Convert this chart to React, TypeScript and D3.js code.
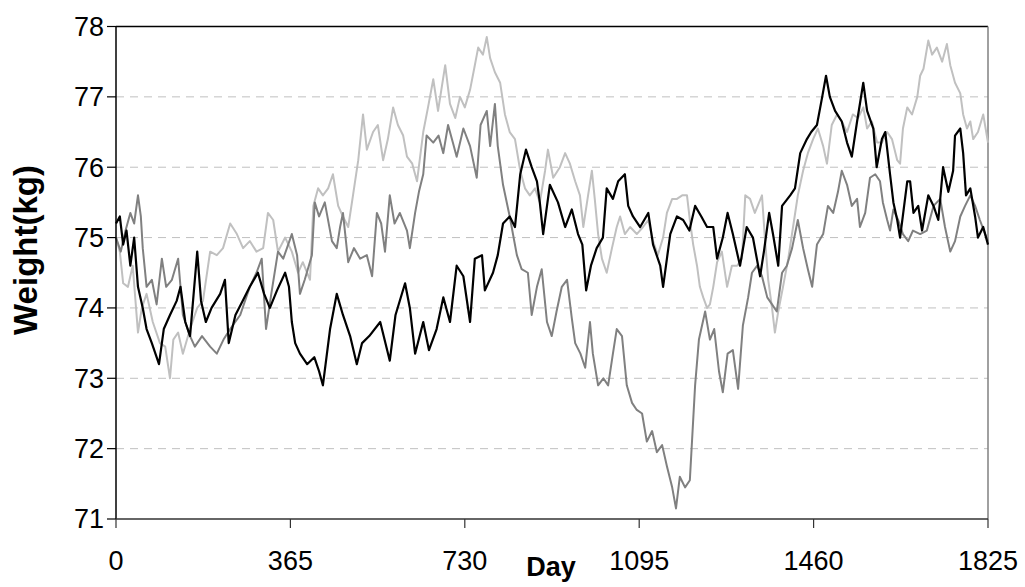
import * as d3 from 'd3';

// [day, weight] readings, one list per subject
const blackSeries: [number, number][] = [
  [0, 75.2], [8, 75.3], [15, 74.9], [22, 75.1], [30, 74.6], [38, 75.0], [46, 74.3], [56, 74.0],
  [64, 73.7], [75, 73.5], [90, 73.2], [100, 73.7], [113, 73.9], [127, 74.1], [135, 74.3], [145, 73.8],
  [155, 73.6], [170, 74.8], [178, 74.1], [188, 73.8], [200, 74.0], [218, 74.2], [228, 74.4], [236, 73.5],
  [250, 73.9], [265, 74.1], [280, 74.3], [297, 74.5], [310, 74.2], [322, 74.0], [337, 74.25], [354, 74.5],
  [362, 74.3], [368, 73.8], [375, 73.5], [385, 73.35], [400, 73.2], [415, 73.3], [425, 73.1], [433, 72.9],
  [448, 73.7], [462, 74.2], [475, 73.9], [490, 73.6], [504, 73.2], [515, 73.5], [530, 73.6], [553, 73.8],
  [573, 73.25], [585, 73.9], [605, 74.35], [615, 74.0], [626, 73.35], [643, 73.8], [655, 73.4], [671, 73.7],
  [685, 74.15], [699, 73.8], [713, 74.6], [727, 74.45], [741, 73.8], [751, 74.7], [766, 74.75], [772, 74.25],
  [789, 74.5], [799, 74.75], [810, 75.2], [824, 75.3], [835, 75.15], [846, 75.9], [858, 76.25], [870, 76.0],
  [881, 75.8], [887, 75.5], [894, 75.05], [908, 75.75], [925, 75.5], [940, 75.15], [954, 75.4], [967, 75.05],
  [976, 74.9], [984, 74.25], [994, 74.6], [1006, 74.85], [1019, 75.0], [1027, 75.7], [1040, 75.55], [1051, 75.8],
  [1065, 75.9], [1072, 75.45], [1082, 75.3], [1097, 75.15], [1114, 75.35], [1124, 74.9], [1139, 74.6], [1145, 74.3],
  [1160, 75.05], [1174, 75.3], [1187, 75.25], [1200, 75.1], [1212, 75.45], [1225, 75.3], [1237, 75.15], [1250, 75.15],
  [1258, 74.7], [1270, 75.0], [1280, 75.35], [1291, 75.05], [1306, 74.6], [1320, 75.15], [1333, 75.0], [1348, 74.45],
  [1356, 74.8], [1367, 75.35], [1375, 75.05], [1386, 74.6], [1394, 75.45], [1411, 75.6], [1421, 75.7], [1432, 76.2],
  [1446, 76.4], [1455, 76.5], [1467, 76.6], [1478, 77.0], [1486, 77.3], [1494, 77.0], [1505, 76.8], [1519, 76.65],
  [1530, 76.35], [1540, 76.15], [1551, 76.65], [1564, 77.2], [1572, 76.8], [1585, 76.55], [1592, 76.0], [1603, 76.4],
  [1610, 76.5], [1620, 75.9], [1627, 75.5], [1635, 75.25], [1641, 75.0], [1656, 75.8], [1662, 75.8], [1669, 75.35],
  [1679, 75.45], [1687, 75.1], [1700, 75.6], [1711, 75.45], [1721, 75.25], [1731, 76.0], [1742, 75.65], [1752, 75.95],
  [1756, 76.45], [1767, 76.55], [1773, 76.2], [1779, 75.6], [1788, 75.7], [1798, 75.3], [1804, 75.0], [1815, 75.15],
  [1825, 74.9],
];

const darkSeries: [number, number][] = [
  [0, 75.0], [10, 74.8], [20, 75.1], [30, 75.35], [38, 75.2], [46, 75.6], [52, 75.3], [56, 74.85],
  [64, 74.3], [75, 74.4], [85, 74.05], [96, 74.7], [105, 74.3], [117, 74.4], [130, 74.7], [140, 73.9],
  [155, 73.6], [165, 73.45], [180, 73.6], [197, 73.45], [211, 73.35], [225, 73.55], [239, 73.7], [260, 73.9],
  [280, 74.3], [294, 74.5], [305, 74.7], [314, 73.7], [325, 74.2], [339, 74.8], [350, 74.7], [368, 75.05],
  [379, 74.75], [385, 74.2], [395, 74.4], [410, 74.75], [416, 75.5], [425, 75.3], [437, 75.5], [452, 74.95],
  [462, 74.85], [469, 75.15], [475, 75.35], [486, 74.65], [498, 74.85], [511, 74.7], [525, 74.75], [536, 74.45],
  [546, 75.35], [555, 75.2], [563, 74.8], [573, 75.6], [583, 75.2], [594, 75.35], [609, 75.1], [615, 74.85],
  [626, 75.35], [634, 75.65], [643, 75.9], [650, 76.45], [664, 76.35], [675, 76.45], [685, 76.2], [695, 76.6],
  [705, 76.35], [713, 76.15], [727, 76.55], [741, 76.3], [755, 75.85], [763, 76.6], [776, 76.8], [783, 76.3],
  [793, 76.9], [799, 76.3], [810, 75.75], [824, 75.3], [839, 74.75], [849, 74.55], [862, 74.5], [870, 73.9],
  [881, 74.3], [891, 74.55], [902, 73.8], [912, 73.6], [922, 73.95], [933, 74.3], [944, 74.4], [954, 73.85],
  [961, 73.5], [972, 73.35], [982, 73.15], [992, 73.8], [998, 73.35], [1009, 72.9], [1020, 73.0], [1030, 72.9],
  [1040, 73.35], [1048, 73.7], [1059, 73.6], [1069, 72.9], [1080, 72.65], [1090, 72.55], [1101, 72.5], [1111, 72.1],
  [1122, 72.25], [1132, 71.95], [1143, 72.05], [1153, 71.75], [1164, 71.45], [1172, 71.15], [1180, 71.6], [1191, 71.45],
  [1201, 71.55], [1212, 72.9], [1220, 73.55], [1233, 73.95], [1243, 73.55], [1252, 73.7], [1262, 73.1], [1270, 72.8],
  [1280, 73.35], [1291, 73.4], [1302, 72.85], [1312, 73.75], [1323, 74.15], [1331, 74.5], [1342, 74.6], [1352, 74.45],
  [1363, 74.15], [1373, 74.05], [1383, 73.95], [1394, 74.5], [1404, 74.6], [1415, 74.85], [1427, 75.25], [1438, 74.85],
  [1448, 74.55], [1457, 74.3], [1467, 74.9], [1480, 75.05], [1490, 75.45], [1501, 75.35], [1511, 75.65], [1519, 75.95],
  [1530, 75.75], [1540, 75.45], [1551, 75.55], [1557, 75.15], [1568, 75.35], [1578, 75.85], [1589, 75.9], [1599, 75.8],
  [1605, 75.5], [1614, 75.25], [1620, 75.1], [1627, 75.4], [1637, 75.25], [1647, 75.05], [1658, 74.95], [1668, 75.1],
  [1683, 75.05], [1697, 75.1], [1711, 75.45], [1725, 75.55], [1735, 75.15], [1746, 74.8], [1756, 74.95], [1767, 75.3],
  [1777, 75.45], [1788, 75.6], [1798, 75.45], [1808, 75.25], [1819, 75.05], [1825, 74.95],
];

const lightSeries: [number, number][] = [
  [0, 75.0], [8, 74.8], [15, 74.35], [25, 74.3], [35, 74.6], [46, 73.65], [54, 74.0], [64, 74.2],
  [77, 73.8], [92, 73.5], [103, 73.45], [113, 73.0], [120, 73.55], [130, 73.65], [140, 73.35], [155, 73.7],
  [170, 74.0], [182, 74.1], [197, 74.8], [211, 74.75], [224, 74.85], [239, 75.2], [253, 75.05], [266, 74.85],
  [280, 74.95], [294, 74.8], [308, 74.85], [318, 75.35], [329, 75.25], [339, 74.8], [354, 75.0], [368, 74.8],
  [381, 74.5], [391, 74.65], [406, 74.4], [413, 75.45], [423, 75.7], [433, 75.6], [444, 75.7], [454, 75.9],
  [465, 75.45], [475, 75.3], [486, 75.15], [496, 75.6], [507, 76.1], [517, 76.75], [525, 76.25], [538, 76.5],
  [548, 76.6], [559, 76.1], [569, 76.4], [580, 76.85], [590, 76.6], [601, 76.45], [609, 76.15], [620, 76.05],
  [630, 75.8], [643, 76.5], [653, 76.85], [664, 77.25], [674, 76.8], [689, 77.45], [699, 76.9], [710, 76.7],
  [720, 77.0], [730, 76.85], [741, 77.1], [751, 77.45], [758, 77.7], [768, 77.6], [776, 77.85], [783, 77.55],
  [793, 77.35], [804, 77.2], [814, 76.75], [824, 76.5], [835, 76.4], [846, 75.95], [856, 75.7], [866, 75.6],
  [877, 75.7], [887, 75.5], [898, 75.95], [904, 76.25], [915, 75.85], [929, 76.0], [940, 76.2], [950, 76.05],
  [961, 75.8], [971, 75.6], [978, 75.15], [988, 75.6], [996, 75.95], [1002, 75.55], [1009, 75.05], [1017, 74.7],
  [1027, 74.5], [1038, 74.85], [1048, 75.15], [1055, 75.3], [1065, 75.05], [1076, 75.15], [1090, 75.05], [1103, 75.15],
  [1114, 75.25], [1124, 74.95], [1134, 74.75], [1145, 75.0], [1153, 75.35], [1164, 75.55], [1174, 75.55], [1185, 75.6],
  [1195, 75.6], [1201, 75.25], [1208, 74.9], [1216, 74.6], [1222, 74.3], [1229, 74.15], [1237, 74.0], [1243, 74.05],
  [1250, 74.3], [1258, 74.65], [1268, 74.8], [1279, 74.3], [1289, 74.6], [1300, 74.6], [1310, 74.7], [1317, 75.6],
  [1327, 75.55], [1337, 75.35], [1352, 75.6], [1358, 75.0], [1365, 74.4], [1373, 74.0], [1379, 73.65], [1386, 73.95],
  [1396, 74.3], [1407, 74.7], [1417, 75.15], [1427, 75.6], [1438, 75.95], [1448, 76.2], [1459, 76.4], [1469, 76.55],
  [1480, 76.3], [1488, 76.05], [1498, 76.6], [1509, 76.75], [1519, 76.65], [1530, 76.5], [1542, 76.75], [1553, 76.7],
  [1564, 76.85], [1572, 76.55], [1582, 76.65], [1593, 76.35], [1603, 76.35], [1614, 76.5], [1624, 76.4], [1635, 76.1],
  [1641, 76.05], [1647, 76.55], [1656, 76.85], [1666, 76.75], [1677, 77.0], [1683, 77.3], [1690, 77.4], [1700, 77.8],
  [1708, 77.6], [1718, 77.7], [1729, 77.5], [1739, 77.75], [1746, 77.45], [1756, 77.2], [1767, 77.05], [1773, 76.75],
  [1781, 76.55], [1788, 76.65], [1794, 76.4], [1804, 76.5], [1815, 76.75], [1825, 76.35],
];

const xTicks = [0, 365, 730, 1095, 1460, 1825];
const yTicks = [71, 72, 73, 74, 75, 76, 77, 78];

const width = 1025;
const height = 587;
const left = 116;
const right = 988;
const top = 26.5;
const bottom = 519;

const App = () => {
  const x = d3.scaleLinear().domain([0, 1825]).range([left, right]);
  const y = d3.scaleLinear().domain([71, 78]).range([bottom, top]);

  const line = d3.line<[number, number]>()
    .x(d => x(d[0]))
    .y(d => y(d[1]));

  const series = [
    { data: lightSeries, color: '#c0c0c0', w: 2 },
    { data: darkSeries, color: '#808080', w: 2 },
    { data: blackSeries, color: '#000000', w: 2.2 },
  ];

  return (
    <svg width={width} height={height} style={{ position: 'absolute', left: 0, top: 0, background: '#fff' }}
      fontFamily="'Liberation Sans', Arial, sans-serif">
      {/* gridlines */}
      {yTicks.filter(t => t > 71 && t < 78).map(t => (
        <line key={'g' + t} x1={left} x2={right} y1={y(t)} y2={y(t)}
          stroke="#c0c0c0" strokeWidth={1} strokeDasharray="8,6" />
      ))}
      {/* plot border */}
      <line x1={left} x2={right} y1={top} y2={top} stroke="#000" strokeWidth={1.5} />
      <line x1={right} x2={right} y1={top} y2={bottom} stroke="#808080" strokeWidth={1.5} />

      {series.map((s, i) => (
        <path key={i} d={line(s.data) || ''} fill="none" stroke={s.color} strokeWidth={s.w} strokeLinejoin="round" />
      ))}

      {/* y axis */}
      <line x1={left} x2={left} y1={top} y2={bottom} stroke="#000" strokeWidth={1.5} />
      {yTicks.map(t => (
        <g key={'y' + t}>
          <line x1={left - 9} x2={left} y1={y(t)} y2={y(t)} stroke="#000" strokeWidth={1.2} />
          <text x={left - 12} y={y(t)} dy="0.35em" textAnchor="end" fontSize={27}>{t}</text>
        </g>
      ))}
      {/* x axis */}
      <line x1={left} x2={right} y1={bottom} y2={bottom} stroke="#333" strokeWidth={1.5} />
      {xTicks.map(t => (
        <g key={'x' + t}>
          <line x1={x(t)} x2={x(t)} y1={bottom} y2={bottom + 9} stroke="#333" strokeWidth={1.2} />
          <text x={x(t)} y={570} textAnchor="middle" fontSize={27}>{t}</text>
        </g>
      ))}
      <text x={551} y={576} textAnchor="middle" fontSize={27} fontWeight="bold">Day</text>
      <text transform="translate(37,250) rotate(-90)" textAnchor="middle" fontSize={33} fontWeight="bold">Weight(kg)</text>
    </svg>
  );
};

export default App;
